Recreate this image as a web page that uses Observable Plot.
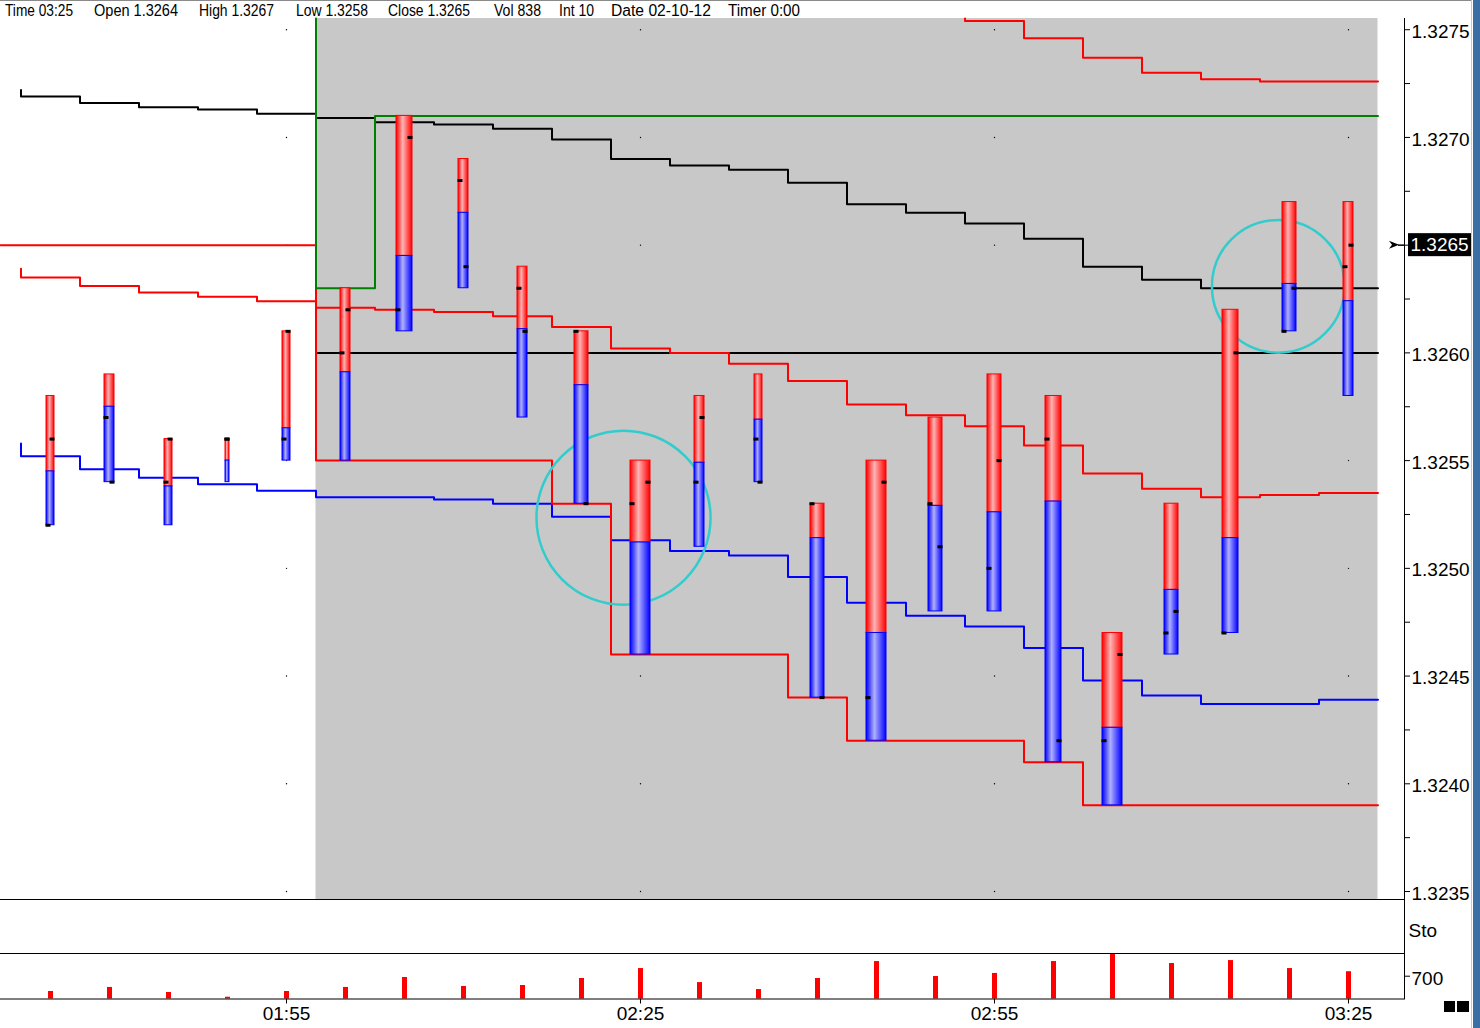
<!DOCTYPE html>
<html><head><meta charset="utf-8">
<script src="https://cdn.jsdelivr.net/npm/d3@7"></script>
<script src="https://cdn.jsdelivr.net/npm/@observablehq/plot@0.6"></script>
<style>
html,body{margin:0;padding:0;background:#fff;}
#wrap{position:relative;width:1480px;height:1028px;overflow:hidden;background:#fff;}
.panel{position:absolute;left:0;}
#wrap svg text{font-family:"Liberation Sans",Arial,sans-serif;font-size:19px;}
#wrap svg.hdr text{font-size:16px;}
</style></head><body><div id="wrap"></div><script>
// ---------------- DATA ----------------
const headerFields = [["Time","03:25"],["Open","1.3264"],["High","1.3267"],["Low","1.3258"],["Close","1.3265"],["Vol","838"],["Int","10"],["Date","02-10-12"],["Timer","0:00"]];

const barTimes = ["01:35","01:40","01:45","01:50","01:55","02:00","02:05","02:10","02:15","02:20","02:25","02:30","02:35","02:40","02:45","02:50","02:55","03:00","03:05","03:10","03:15","03:20","03:25"];
const opens  = [1.3252,1.3257,1.3254,1.3256,1.3256,1.3260,1.3262,1.3268,1.3263,1.3261,1.3253,1.3254,1.3256,1.3253,1.3244,1.3253,1.3250,1.3256,1.3242,1.3247,1.3247,1.3261,1.3264];
const highs  = [1.3258,1.3259,1.3256,1.3256,1.3261,1.3263,1.3271,1.3269,1.3264,1.3261,1.3255,1.3258,1.3259,1.3253,1.3255,1.3257,1.3259,1.3258,1.3247,1.3253,1.3262,1.3267,1.3267];
const lows   = [1.3252,1.3254,1.3252,1.3254,1.3255,1.3255,1.3261,1.3263,1.3257,1.3253,1.3246,1.3251,1.3254,1.3244,1.3242,1.3248,1.3248,1.3241,1.3239,1.3246,1.3247,1.3261,1.3258];
const closes = [1.3256,1.3254,1.3256,1.3256,1.3261,1.3262,1.3270,1.3264,1.3261,1.3253,1.3254,1.3257,1.3254,1.3244,1.3254,1.3251,1.3255,1.3242,1.3246,1.3248,1.3260,1.3263,1.3265];
// level where the upper (red) part of each bar meets the lower (blue) part
const splits = [1.32545,1.32575,1.32538,1.32550,1.32565,1.32591,1.32645,1.32665,1.32611,1.32585,1.32512,1.32549,1.32569,1.32514,1.32470,1.32529,1.32526,1.32531,1.32426,1.32490,1.32514,1.32632,1.32624];
// bar thickness class (1 = thinnest)
const thickness = [2,3,2,1,2,3,5,3,3,4,6,3,2,4,6,4,4,5,6,4,5,4,3];
const volumes = [230,355,200,55,230,355,660,385,415,630,935,505,290,630,1150,690,785,1150,1365,1090,1180,935,838];

// step lines (one value per bar, null = not drawn), plus the value the line comes from
const vwapLine    = [1.32719,1.32716,1.32714,1.32713,1.32711,1.32709,1.32707,1.32706,1.32704,1.32699,1.32690,1.32687,1.32685,1.32679,1.32669,1.32665,1.32660,1.32653,1.32640,1.32634,1.32630,1.32630,1.32630];
const vwapEntry = 1.32722;
const upperBand   = [1.32635,1.32631,1.32628,1.32626,1.32624,1.32621,1.32620,1.32619,1.32617,1.32612,1.32602,1.32600,1.32595,1.32587,1.32576,1.32571,1.32566,1.32557,1.32544,1.32537,1.32533,1.32534,1.32535];
const upperBandEntry = 1.32639;
const lowerBand   = [1.32552,1.32546,1.32542,1.32539,1.32536,1.32533,1.32533,1.32532,1.32530,1.32524,1.32513,1.32508,1.32506,1.32496,1.32484,1.32478,1.32473,1.32463,1.32448,1.32441,1.32437,1.32437,1.32439];
const lowerBandEntry = 1.32558;
const topBand     = [null,null,null,null,null,null,null,null,null,null,null,null,null,null,null,null,1.32754,1.32746,1.32737,1.32730,1.32727,1.32726,1.32726];
const sessionHigh = [null,null,null,null,null,1.3263,1.3271,1.3271,1.3271,1.3271,1.3271,1.3271,1.3271,1.3271,1.3271,1.3271,1.3271,1.3271,1.3271,1.3271,1.3271,1.3271,1.3271];
const sessionLow  = [null,null,null,null,null,1.3255,1.3255,1.3255,1.3255,1.3253,1.3246,1.3246,1.3246,1.3244,1.3242,1.3242,1.3242,1.3241,1.3239,1.3239,1.3239,1.3239,1.3239];
const priorLow = 1.3265;
const sessionOpen = [null,null,null,null,null,1.3260,1.3260,1.3260,1.3260,1.3260,1.3260,1.3260,1.3260,1.3260,1.3260,1.3260,1.3260,1.3260,1.3260,1.3260,1.3260,1.3260,1.3260];
const sessionStart = "02:00";

const circles = [{time:143.56, price:1.325235, radius:0.000404},{time:199.05, price:1.326309, radius:0.000308}];

const priceMajorTicks = [1.3235,1.3240,1.3245,1.3250,1.3255,1.3260,1.3265,1.3270,1.3275];
const priceMinorTicks = [1.32375,1.32425,1.32475,1.32525,1.32575,1.32625,1.32675,1.32725];
const timeTickLabels = ["01:55","02:25","02:55","03:25"];
const volumeTicks = [700];

// ---------------- LAYOUT ----------------
const W = 1480, MR = 76, FRAME_R = W - MR;
const X_DOMAIN = [90.7627, 209.7458];
const Y_DOMAIN = [1.323463, 1.327552];
const PRICE_TOP = 18, PRICE_BOTTOM = 899;
const VOL_MAX = 1397;
const thicknessPx = [5,9,11,15,17,21];
const headerPos = [[5,68],[94,84],[199,75],[296,72],[388,82],[494,47],[559,35],[611,100],[728,72]];
const ppm = FRAME_R / (X_DOMAIN[1] - X_DOMAIN[0]);          // px per minute
const ppp = (PRICE_BOTTOM - PRICE_TOP) / (Y_DOMAIN[1] - Y_DOMAIN[0]); // px per price unit

const toMin = s => +s.slice(0,2) * 60 + +s.slice(3);
const T = barTimes.map(toMin);
const STEP = T[1] - T[0];
const n = T.length;
const leftEdge = i => T[i] - STEP / 2;
const last = closes[n - 1];

const bars = T.map((t, i) => ({t, o: opens[i], h: highs[i], l: lows[i], c: closes[i], s: splits[i], v: volumes[i], w: thicknessPx[thickness[i] - 1]}));

function stepPoints(values, entry, entryX) {
  const first = values.findIndex(v => v != null);
  const pts = [];
  if (entry != null) pts.push({x: entryX != null ? entryX : leftEdge(first), y: entry});
  values.forEach((v, i) => { if (v != null) pts.push({x: leftEdge(i), y: v}); });
  pts.push({x: T[n - 1] + STEP / 2, y: values[n - 1]});
  return pts;
}

const gridDots = [];
timeTickLabels.forEach(l => priceMajorTicks.forEach(p => gridDots.push({x: toMin(l), y: p})));

const sessionRect = [{x1: leftEdge(T.indexOf(toMin(sessionStart))), x2: T[n-1] + STEP/2, y1: Y_DOMAIN[0], y2: Y_DOMAIN[1]}];

const stepLine = (pts, stroke) => Plot.line(pts, {x: "x", y: "y", curve: "step-after", stroke, strokeWidth: 2});

const baseStyle = {fontFamily: "Liberation Sans, Arial, sans-serif", fontSize: "19px", color: "#000", background: "transparent", overflow: "visible"};

// nudge axis labels down a little (they sit slightly below their ticks in the reference)
function nudge(svg, test, dy) {
  d3.select(svg).selectAll("text").filter(function() { return test(this.textContent); }).each(function() {
    const tr = this.getAttribute("transform");
    this.setAttribute("transform", (tr ? tr + " " : "") + `translate(0,${dy})`);
  });
}

// ---------------- PRICE PANEL ----------------
const price = Plot.plot({
  width: W, height: 900,
  marginTop: PRICE_TOP, marginBottom: 900 - PRICE_BOTTOM, marginLeft: 0, marginRight: MR,
  style: baseStyle,
  x: {domain: X_DOMAIN, axis: null},
  y: {domain: Y_DOMAIN, axis: "right", ticks: [...priceMajorTicks, ...priceMinorTicks],
      // the label at the last close is replaced by the highlighted price box below
      tickFormat: d => priceMajorTicks.includes(d) && d !== last ? d.toFixed(4) : "",
      tickSize: 5, tickPadding: 2, line: true, label: null},
  marks: [
    Plot.rect(sessionRect, {x1: "x1", x2: "x2", y1: "y1", y2: "y2", fill: "#c8c8c8"}),
    Plot.dot(gridDots, {x: "x", y: "y", r: 0.7, fill: "#000", stroke: null}),
    stepLine(stepPoints(sessionOpen, null), "#000"),
    stepLine(stepPoints(vwapLine, vwapEntry), "#000"),
    stepLine(stepPoints(upperBand, upperBandEntry), "#ff0000"),
    stepLine(stepPoints(lowerBand, lowerBandEntry), "#0000ff"),
    stepLine(stepPoints(topBand, Y_DOMAIN[1]), "#ff0000"),
    stepLine(stepPoints(sessionLow, priorLow, X_DOMAIN[0]), "#ff0000"),
    stepLine(stepPoints(sessionHigh, Y_DOMAIN[1]), "#008000"),
    ...circles.map(c => Plot.dot([c], {x: "time", y: "price", r: c.radius * ppp, stroke: "#33cccc", strokeWidth: 2.5, fill: "none"})),
    Plot.rect(bars, {x1: d => d.t - (d.w - 1) / 2 / ppm, x2: d => d.t + (d.w - 1) / 2 / ppm, y1: "s", y2: "h", fill: "url(#gradRed)", stroke: "#ff0000", strokeWidth: 1}),
    Plot.rect(bars, {x1: d => d.t - (d.w - 1) / 2 / ppm, x2: d => d.t + (d.w - 1) / 2 / ppm, y1: "l", y2: "s", fill: "url(#gradBlue)", stroke: "#0000ff", strokeWidth: 1}),
    Plot.ruleY(bars, {x1: d => d.t - d.w / 2 / ppm, x2: d => d.t - d.w / 2 / ppm + Math.min(5, d.w) / ppm, y: "o", stroke: "#000", strokeWidth: 3}),
    Plot.ruleY(bars, {x1: d => d.t + d.w / 2 / ppm - Math.min(5, d.w) / ppm, x2: d => d.t + d.w / 2 / ppm, y: "c", stroke: "#000", strokeWidth: 3}),
    Plot.ruleY([Y_DOMAIN[0]], {stroke: "#000"})
  ]
});
price.classList.add("panel"); price.style.top = "0px";
nudge(price, s => /^\d\.\d{4}$/.test(s), 2);

const ps = d3.select(price);
const defs = ps.insert("defs", ":first-child");
function grad(id, edge, mid) {
  const g = defs.append("linearGradient").attr("id", id).attr("x1", 0).attr("x2", 1).attr("y1", 0).attr("y2", 0);
  [[0, edge], [0.42, mid], [1, edge]].forEach(([o, c]) => g.append("stop").attr("offset", o).attr("stop-color", c));
}
grad("gradRed", "#ff0000", "#ffb4b4");
grad("gradBlue", "#0000ff", "#b0b0ff");

// current price marker
const yPx = d3.scaleLinear(Y_DOMAIN, [PRICE_BOTTOM, PRICE_TOP]);
const yc = yPx(last);
ps.append("path").attr("d", `M${FRAME_R-15},${yc-4}L${FRAME_R-5},${yc}L${FRAME_R-15},${yc+4}L${FRAME_R-12},${yc}Z`).attr("fill", "#000");
ps.append("line").attr("x1", FRAME_R - 6).attr("x2", FRAME_R).attr("y1", yc + 0.5).attr("y2", yc + 0.5).attr("stroke", "#000").attr("stroke-width", 1.5);
ps.append("rect").attr("x", FRAME_R + 4).attr("y", yc - 11.5).attr("width", 64).attr("height", 23).attr("fill", "#000");
ps.append("text").attr("x", FRAME_R + 6.5).attr("y", yc).attr("dy", "0.36em").attr("text-anchor", "start").attr("fill", "#fff").text(last.toFixed(4));

// ---------------- STO PANEL ----------------
const sto = Plot.plot({
  width: W, height: 54, marginTop: 0, marginBottom: 0, marginLeft: 0, marginRight: MR,
  style: baseStyle,
  x: {domain: X_DOMAIN, axis: null},
  y: {domain: [0, 1], axis: null},
  marks: [
    Plot.ruleX([X_DOMAIN[1]], {stroke: "#000"}),
    Plot.text(["Sto"], {text: d => d, frameAnchor: "right", textAnchor: "start", dx: 4, dy: 4, fill: "#000"})
  ]
});
sto.classList.add("panel"); sto.style.top = "899px";

// ---------------- VOLUME PANEL ----------------
const vol = Plot.plot({
  width: W, height: 75, marginTop: 0, marginBottom: 29.5, marginLeft: 0, marginRight: MR,
  style: baseStyle,
  x: {domain: X_DOMAIN, ticks: timeTickLabels.map(toMin), tickFormat: d => timeTickLabels[timeTickLabels.map(toMin).indexOf(d)], tickSize: 5, tickPadding: 2, label: null},
  y: {domain: [0, VOL_MAX], axis: "right", ticks: volumeTicks, tickFormat: d => String(d), tickSize: 5, tickPadding: 2, line: true, label: null},
  marks: [
    Plot.ruleX(bars, {x: "t", y1: d => 0, y2: "v", stroke: "#ff0000", strokeWidth: 5}),
    Plot.ruleY([VOL_MAX], {stroke: "#000"}),
    Plot.ruleY([0], {stroke: "#000"})
  ]
});
vol.classList.add("panel"); vol.style.top = "953px";
nudge(vol, s => s === String(volumeTicks[0]), 3);

const wrap = document.getElementById("wrap");
wrap.append(price, sto, vol);

// header line (data readout)
const hdr = d3.select(wrap).append("svg").attr("class", "hdr panel").attr("width", 820).attr("height", 18)
  .style("top", "0px").style("overflow", "visible");
headerFields.forEach(([k, v], i) => {
  hdr.append("text").attr("x", headerPos[i][0]).attr("y", 16).attr("textLength", headerPos[i][1])
    .attr("lengthAdjust", "spacingAndGlyphs").attr("fill", "#000").text(`${k} ${v}`);
});

// window chrome
const chrome = [
  {l: 0, t: 0, w: 1472, h: 1, c: "#8a8a8a"},
  {l: 1471, t: 0, w: 1, h: 1028, c: "#c8c8c8"},
  {l: 1473, t: 0, w: 7, h: 1028, c: "#3a6ea5"},
  {l: 1444, t: 1001, w: 11, h: 11, c: "#000"},
  {l: 1457, t: 1001, w: 12, h: 11, c: "#000"}
];
chrome.forEach(d => {
  const e = document.createElement("div");
  Object.assign(e.style, {position: "absolute", left: d.l + "px", top: d.t + "px", width: d.w + "px", height: d.h + "px", background: d.c});
  wrap.appendChild(e);
});
</script></body></html>
